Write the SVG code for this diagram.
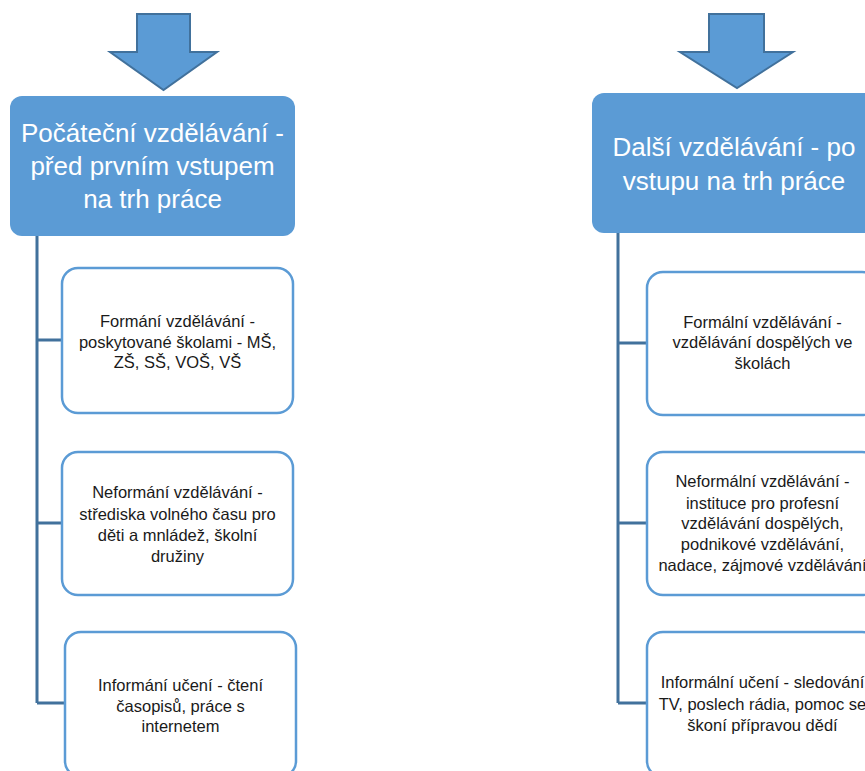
<svg xmlns="http://www.w3.org/2000/svg" width="865" height="771" viewBox="0 0 865 771">
<style>
.arrow{fill:#5B9BD5;stroke:#41719C;stroke-width:2}
.head{fill:#5B9BD5}
.ht{font-family:"Liberation Sans",Arial,sans-serif;font-size:26px;fill:#fff;text-anchor:middle}
.box{fill:#fff;stroke:#5B9BD5;stroke-width:2.5}
.bt{font-family:"Liberation Sans",Arial,sans-serif;font-size:16.5px;fill:#1a1a1a;text-anchor:middle}
.conn{fill:none;stroke:#41719C;stroke-width:3}
</style>
<rect width="865" height="771" fill="#fff"/>
<g id="connectors">
<path class="conn" d="M37 236V703M37 340H62M37 523H62M37 703H65"/>
<path class="conn" d="M618 233V703M618 343H647M618 523H647M618 703H647"/>
</g>
<g id="arrow-left"><path class="arrow" d="M137 14H190V52H217L163.5 90L110 52H137Z"/></g>
<g id="arrow-right"><path class="arrow" d="M709 14H764V52H793L737 88L680 52H709Z"/></g>
<g id="head-left">
<rect class="head" x="10" y="96" width="285" height="140" rx="12"/>
<text class="ht" x="152.5" y="142">Počáteční vzdělávání -</text>
<text class="ht" x="152.5" y="175">před prvním vstupem</text>
<text class="ht" x="152.5" y="208">na trh práce</text>
</g>
<g id="head-right">
<rect class="head" x="592" y="93" width="284" height="140" rx="12"/>
<text class="ht" x="734" y="156">Další vzdělávání - po</text>
<text class="ht" x="734" y="190">vstupu na trh práce</text>
</g>
<g id="box-l1">
<rect class="box" x="62" y="268" width="231" height="145" rx="16"/>
<text class="bt" x="177.5" y="327">Formání vzdělávání -</text>
<text class="bt" x="177.5" y="348">poskytované školami - MŠ,</text>
<text class="bt" x="177.5" y="368">ZŠ, SŠ, VOŠ, VŠ</text>
</g>
<g id="box-l2">
<rect class="box" x="62" y="452" width="231" height="143" rx="16"/>
<text class="bt" x="177.5" y="498">Neformání vzdělávání -</text>
<text class="bt" x="177.5" y="520">střediska volného času pro</text>
<text class="bt" x="177.5" y="541">děti a mnládež, školní</text>
<text class="bt" x="177.5" y="562">družiny</text>
</g>
<g id="box-l3">
<rect class="box" x="65" y="632" width="231" height="145" rx="16"/>
<text class="bt" x="180.5" y="691">Informání učení - čtení</text>
<text class="bt" x="180.5" y="712">časopisů, práce s</text>
<text class="bt" x="180.5" y="732">internetem</text>
</g>
<g id="box-r1">
<rect class="box" x="647" y="272" width="231" height="143" rx="16"/>
<text class="bt" x="762.5" y="328">Formální vzdělávání -</text>
<text class="bt" x="762.5" y="348">vzdělávání dospělých ve</text>
<text class="bt" x="762.5" y="369">školách</text>
</g>
<g id="box-r2">
<rect class="box" x="647" y="452" width="231" height="143" rx="16"/>
<text class="bt" x="762.5" y="487">Neformální vzdělávání -</text>
<text class="bt" x="762.5" y="509">instituce pro profesní</text>
<text class="bt" x="762.5" y="529">vzdělávání dospělých,</text>
<text class="bt" x="762.5" y="550">podnikové vzdělávání,</text>
<text class="bt" x="762.5" y="571">nadace, zájmové vzdělávání</text>
</g>
<g id="box-r3">
<rect class="box" x="647" y="632" width="231" height="145" rx="16"/>
<text class="bt" x="762.5" y="688">Informální učení - sledování</text>
<text class="bt" x="762.5" y="710">TV, poslech rádia, pomoc se</text>
<text class="bt" x="762.5" y="731">škoní přípravou dědí</text>
</g>
</svg>
